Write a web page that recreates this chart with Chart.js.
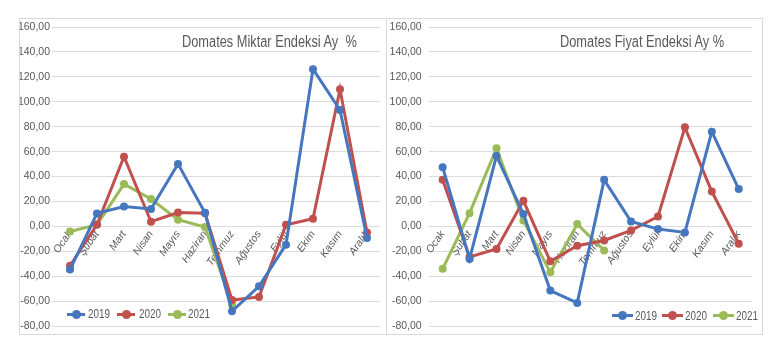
<!DOCTYPE html>
<html lang="tr">
<head>
<meta charset="UTF-8">
<title>Domates Endeksleri</title>
<script src="https://cdn.jsdelivr.net/npm/chart.js"></script>
<style>
  body { margin: 0; background: #fff; width: 784px; height: 354px; position: relative; overflow: hidden;
         font-family: 'Liberation Sans', Arial, sans-serif; color: #595959; }
  canvas { position: absolute; }
  .panel { position: absolute; top: 18px; height: 317px; box-sizing: border-box; border: 1px solid #d9d9d9; pointer-events: none; }
  .title { position: absolute; font-size: 16px; white-space: pre; color: #595959; transform: scaleX(0.8); transform-origin: left center; }
  .lg-mark { position: absolute; height: 3px; }
  .lg-mark::after { content: ''; position: absolute; left: 50%; top: -3px; margin-left: -4.5px; width: 9px; height: 9px; border-radius: 50%; background: inherit; }
  .lg-text { position: absolute; font-size: 13px; line-height: 14px; transform: scaleX(0.76); transform-origin: left center; color: #595959; }
</style>
</head>
<body>

<canvas id="miktarChart" width="386" height="315" style="left:0; top:19px;"></canvas>
<canvas id="fiyatChart" width="374" height="315" style="left:388px; top:19px;"></canvas>

<div class="panel" style="left:19px; width:368px;"></div>
<div class="panel" style="left:386px; width:377px;"></div>

<div class="title" style="left:182px; top:33px;">Domates Miktar Endeksi Ay  %</div>
<div class="title" style="left:560px; top:33px;">Domates Fiyat Endeksi Ay %</div>

<script>
  const months = ['Ocak', 'Şubat', 'Mart', 'Nisan', 'Mayıs', 'Haziran', 'Temmuz', 'Ağustos', 'Eylül', 'Ekim', 'Kasım', 'Aralık'];
  const years = ['2019', '2020', '2021'];
  const colors = ['#4677BE', '#C0504D', '#9BBB59'];

  const yMin = -80;
  const yMax = 160;
  const yStep = 20;

  // Domates Miktar Endeksi (aylık % değişim)
  const miktar2019 = [-34.6, 10.5, 16, 14, 50.2, 11, -68, -48, -14.6, 126.2, 93.4, -9.3];
  const miktar2020 = [-31.5, 1.5, 56, 3.8, 11.2, 10.7, -59, -56.5, 1.4, 6.2, 110, -4.8];
  const miktar2021 = [-4, 1.4, 34, 22, 5.4, -0.5, -62.6];

  // Domates Fiyat Endeksi (aylık % değişim)
  const fiyat2019 = [47.5, -26, 56.6, 10, -51.4, -61.3, 37.4, 4, -2.1, -4.8, 76, 30];
  const fiyat2020 = [37.4, -24.5, -18.1, 20.6, -28, -15.4, -11.2, -3.2, 8, 79.5, 28, -13.8];
  const fiyat2021 = [-34, 10.7, 62.7, 4.8, -36.8, 1.9, -19.2];

  const textColor = '#595959';
  const gridColor = '#dcdcdc';
  const fontFamily = "'Liberation Sans', Arial, sans-serif";

  function makeChart(id, series, layout) {
    return new Chart(document.getElementById(id), {
      type: 'line',
      data: {
        labels: months,
        datasets: series.map((values, i) => ({
          label: years[i],
          data: values,
          borderColor: colors[i],
          backgroundColor: colors[i],
          borderWidth: 3,
          pointRadius: 4,
          pointHoverRadius: 4,
          pointBorderWidth: 0,
          tension: 0
        }))
      },
      options: {
        responsive: false,
        animation: false,
        layout: { padding: layout.padding },
        plugins: { legend: { display: false }, title: { display: false }, tooltip: { enabled: false } },
        scales: {
          x: {
            type: 'category',
            position: { y: 0 },
            offset: true,
            grid: { display: false, drawTicks: false },
            border: { display: false },
            ticks: {
              autoSkip: false,
              minRotation: 55,
              maxRotation: 55,
              padding: 2,
              color: textColor,
              font: { family: fontFamily, size: 10.5, style: 'italic' }
            },
            afterFit: s => { s.height = 0; }
          },
          y: {
            min: yMin,
            max: yMax,
            grid: { color: gridColor, lineWidth: 1, tickLength: layout.tick, tickColor: layout.tickColor },
            border: { display: false },
            ticks: {
              stepSize: yStep,
              padding: 1.5,
              color: textColor,
              font: { family: fontFamily, size: 10.5 },
              callback: v => v.toFixed(2).replace('.', ',')
            },
            afterFit: s => { s.width = layout.axisWidth; }
          }
        }
      }
    });
  }

  makeChart('miktarChart', [miktar2019, miktar2020, miktar2021],
    { padding: { left: 0, right: 5.5, top: 8, bottom: 7 }, axisWidth: 56.5, tick: 5, tickColor: gridColor });
  makeChart('fiyatChart', [fiyat2019, fiyat2020, fiyat2021],
    { padding: { left: 0, right: 9.8, top: 8, bottom: 7 }, axisWidth: 41.2, tick: 6, tickColor: 'rgba(0,0,0,0)' });

  // legend items: line marker + year, placed inside each plot like the original
  function buildLegend(markX, textX, y, markW) {
    years.forEach((yr, i) => {
      const mark = document.createElement('div');
      mark.className = 'lg-mark';
      mark.style.cssText = `left:${markX[i]}px; top:${y - 1.5}px; width:${markW}px; background:${colors[i]};`;
      const txt = document.createElement('div');
      txt.className = 'lg-text';
      txt.style.cssText = `left:${textX[i]}px; top:${y - 7}px;`;
      txt.textContent = yr;
      document.body.appendChild(mark);
      document.body.appendChild(txt);
    });
  }
  buildLegend([67, 117, 168], [88, 139, 188], 314, 18);
  buildLegend([612, 662, 713], [635, 685, 736], 315.5, 21);
</script>
</body>
</html>
